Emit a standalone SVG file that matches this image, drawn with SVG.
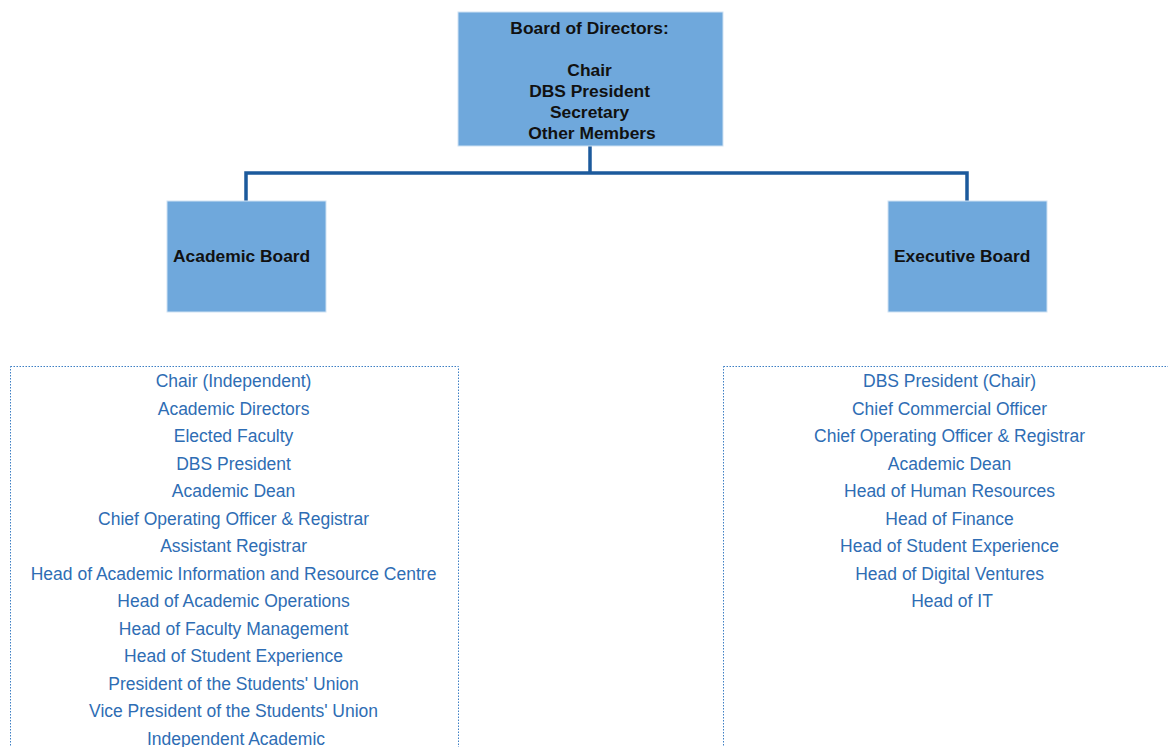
<svg xmlns="http://www.w3.org/2000/svg" width="1168" height="747" viewBox="0 0 1168 747">
<style>
.node{fill:#6fa8dc;stroke:#cfe2f3;stroke-width:1}
.bt{font-family:"Liberation Sans",Arial,sans-serif;font-size:17.4px;font-weight:bold;fill:#111}
.lst{font-family:"Liberation Sans",Arial,sans-serif;font-size:17.5px;fill:#2e6db4;text-anchor:middle}
.conn{fill:none;stroke:#1c5a9c;stroke-width:3.5}
.dot{fill:none;stroke:#3d7fc4;stroke-width:1;stroke-dasharray:1.5 1.5}
</style>
<rect width="1168" height="747" fill="#fff"/>
<g id="connectors">
<path class="conn" d="M590 146 V173 M246 173 H967 M246 171.25 V201 M967 171.25 V201"/>
</g>
<g id="board">
<rect class="node" x="458" y="12" width="265" height="134"/>
<text class="bt" text-anchor="middle" x="592">
<tspan x="592" y="34">Board of Directors:</tspan>
<tspan x="592" y="76">Chair</tspan>
<tspan x="592" y="97">DBS President</tspan>
<tspan x="592" y="118">Secretary</tspan>
<tspan x="592" y="139">Other Members</tspan>
</text>
</g>
<g id="academic">
<rect class="node" x="167" y="201" width="159" height="111"/>
<text class="bt" x="173" y="262">Academic Board</text>
</g>
<g id="executive">
<rect class="node" x="888" y="201" width="159" height="111"/>
<text class="bt" x="894" y="262">Executive Board</text>
</g>
<g id="academic-members">
<rect class="dot" x="10.5" y="366.5" width="448" height="400"/>
<text class="lst">
<tspan x="236" y="387">Chair (Independent)</tspan>
<tspan x="236" y="414.5">Academic Directors</tspan>
<tspan x="236" y="442">Elected Faculty</tspan>
<tspan x="236" y="469.5">DBS President</tspan>
<tspan x="236" y="497">Academic Dean</tspan>
<tspan x="236" y="524.5">Chief Operating Officer &amp; Registrar</tspan>
<tspan x="236" y="552">Assistant Registrar</tspan>
<tspan x="236" y="579.5">Head of Academic Information and Resource Centre</tspan>
<tspan x="236" y="607">Head of Academic Operations</tspan>
<tspan x="236" y="634.5">Head of Faculty Management</tspan>
<tspan x="236" y="662">Head of Student Experience</tspan>
<tspan x="236" y="689.5">President of the Students' Union</tspan>
<tspan x="236" y="717">Vice President of the Students' Union</tspan>
<tspan x="236" y="744.5">Independent Academic</tspan>
</text>
</g>
<g id="executive-members">
<rect class="dot" x="723.5" y="366.5" width="460" height="400"/>
<text class="lst">
<tspan x="952" y="387">DBS President (Chair)</tspan>
<tspan x="952" y="414.5">Chief Commercial Officer</tspan>
<tspan x="952" y="442">Chief Operating Officer &amp; Registrar</tspan>
<tspan x="952" y="469.5">Academic Dean</tspan>
<tspan x="952" y="497">Head of Human Resources</tspan>
<tspan x="952" y="524.5">Head of Finance</tspan>
<tspan x="952" y="552">Head of Student Experience</tspan>
<tspan x="952" y="579.5">Head of Digital Ventures</tspan>
<tspan x="952" y="607">Head of IT</tspan>
</text>
</g>
</svg>
